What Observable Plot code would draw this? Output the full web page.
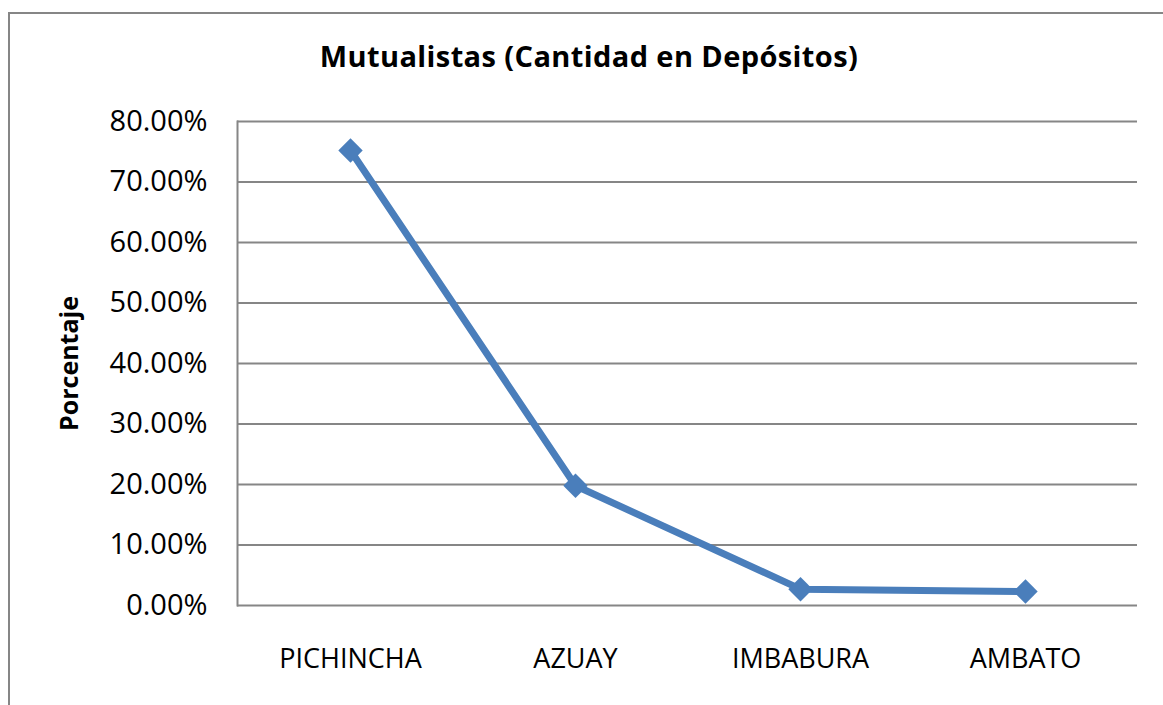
<!DOCTYPE html>
<html><head><meta charset="utf-8">
<script src="https://cdn.jsdelivr.net/npm/d3@7"></script>
<script src="https://cdn.jsdelivr.net/npm/@observablehq/plot@0.6"></script>
<style>
html,body{margin:0;padding:0;background:#fff;overflow:hidden;}
#wrap{position:relative;width:1163px;height:705px;overflow:hidden;background:#fff;}
#border{position:absolute;left:8px;top:12px;width:1170px;height:720px;border:2px solid #868686;box-sizing:border-box;z-index:2;pointer-events:none;}
#titlebox{position:relative;height:100px;width:1163px;}
#title{position:absolute;left:0;top:41px;width:1178px;text-align:center;font-family:'Open Sans',sans-serif;font-weight:bold;font-size:29px;line-height:29px;letter-spacing:0.4px;color:#000;white-space:nowrap;}
#chart svg{display:block;}
</style></head>
<body>
<div id="wrap">
  <div id="titlebox"><div id="title">Mutualistas (Cantidad en Depósitos)</div></div>
  <div id="chart"></div>
  <div id="border"></div>
</div>
<script>
const categories = ["PICHINCHA", "AZUAY", "IMBABURA", "AMBATO"];
const values = [0.752, 0.198, 0.027, 0.023];
const yTicks = [0, 0.1, 0.2, 0.3, 0.4, 0.5, 0.6, 0.7, 0.8];
const yLabel = "Porcentaje";

const data = categories.map((c, i) => ({provincia: c, porcentaje: values[i]}));

const chart = Plot.plot({
  width: 1163,
  height: 605,
  marginTop: 21,
  marginBottom: 100,
  marginLeft: 237,
  marginRight: 26,
  style: {fontFamily: "'Open Sans', sans-serif", fontSize: "27px", color: "#000", background: "transparent"},
  x: {type: "point", domain: categories, padding: 0.5, label: null},
  y: {domain: [0, 0.8], ticks: yTicks, label: null},
  marks: [
    Plot.gridY(yTicks.slice(1), {stroke: "#868686", strokeOpacity: 1, strokeWidth: 2}),
    Plot.ruleY([0], {stroke: "#868686", strokeWidth: 2}),
    Plot.frame({anchor: "left", stroke: "#868686", strokeWidth: 2}),
    Plot.axisY(yTicks, {tickSize: 0, tickPadding: 30, fontSize: 29, tickFormat: d => (d * 100).toFixed(2) + "%", label: null}),
    Plot.axisX({tickSize: 0, tickPadding: 43, fontSize: 27, label: null}),
    Plot.line(data, {x: "provincia", y: "porcentaje", stroke: "#4A7EBB", strokeWidth: 7}),
    Plot.dot(data, {x: "provincia", y: "porcentaje", symbol: "diamond2", r: 11, fill: "#4A7EBB", stroke: "none"}),
    Plot.text([yLabel], {text: d => d, frameAnchor: "left", textAnchor: "middle", dx: -168, rotate: -90, fontWeight: "bold", fontSize: 25})
  ]
});
document.getElementById("chart").appendChild(chart);
</script>
</body></html>
